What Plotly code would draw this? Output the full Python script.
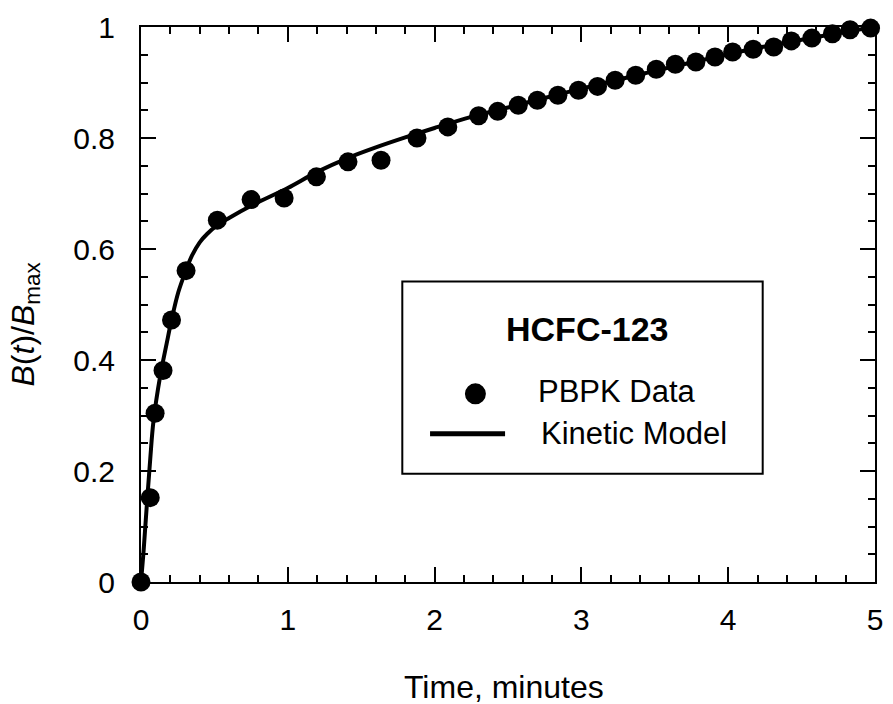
import plotly.graph_objects as go

# PBPK data points (time in minutes, normalized B(t)/Bmax)
pbpk_t = [0.0, 0.063, 0.096, 0.15, 0.208, 0.307, 0.52, 0.75, 0.975, 1.195, 1.41, 1.635,
          1.88, 2.09, 2.30, 2.43, 2.57, 2.70, 2.84, 2.98, 3.11, 3.23, 3.37, 3.51, 3.64,
          3.78, 3.91, 4.03, 4.17, 4.31, 4.43, 4.57, 4.71, 4.83, 4.97]
pbpk_y = [0.0, 0.152, 0.304, 0.381, 0.472, 0.561, 0.652, 0.689, 0.692, 0.730, 0.757, 0.760,
          0.80, 0.82, 0.84, 0.848, 0.859, 0.868, 0.877, 0.886, 0.893, 0.904, 0.913, 0.924, 0.933,
          0.937, 0.946, 0.955, 0.96, 0.964, 0.975, 0.98, 0.988, 0.995, 0.998]

# Kinetic model curve
model_t = [0, 0.018, 0.04, 0.063, 0.085, 0.13, 0.175, 0.208, 0.254, 0.307, 0.347, 0.40,
           0.45, 0.52, 0.60, 0.75, 1.0, 1.2, 1.4, 1.6, 1.8, 2.0, 2.25, 2.5, 2.75, 3.0,
           3.25, 3.5, 3.75, 4.0, 4.25, 4.5, 4.75, 5.0]
model_y = [0, 0.057, 0.14, 0.222, 0.29, 0.37, 0.43, 0.472, 0.522, 0.562, 0.588, 0.612,
           0.627, 0.643, 0.656, 0.678, 0.710, 0.739, 0.763, 0.783, 0.801, 0.818, 0.838,
           0.855, 0.872, 0.889, 0.905, 0.921, 0.936, 0.951, 0.965, 0.977, 0.989, 1.0]

y_tickvals = [0, 0.2, 0.4, 0.6, 0.8, 1.0]
y_ticktext = ["0", "0.2", "0.4", "0.6", "0.8", "1"]
x_tickvals = [0, 1, 2, 3, 4, 5]
x_ticktext = ["0", "1", "2", "3", "4", "5"]

FONT = "Liberation Sans, Arial, Helvetica, sans-serif"

fig = go.Figure()
fig.add_trace(go.Scatter(x=model_t, y=model_y, mode="lines", name="Kinetic Model",
                         line=dict(color="black", width=4, shape="spline", smoothing=1.0),
                         cliponaxis=False, showlegend=False))
fig.add_trace(go.Scatter(x=pbpk_t, y=pbpk_y, mode="markers", name="PBPK Data",
                         marker=dict(color="black", size=19, line=dict(width=0)),
                         cliponaxis=False, showlegend=False))

axis_common = dict(showline=True, linecolor="black", linewidth=2, mirror="allticks",
                   ticks="inside", ticklen=15, tickwidth=2, tickcolor="black",
                   showgrid=False, zeroline=False,
                   tickfont=dict(family=FONT, size=30, color="black"))

fig.update_xaxes(range=[0, 5], tickvals=x_tickvals, ticktext=x_ticktext,
                 minor=dict(ticks="inside", ticklen=7, tickwidth=2, tickcolor="black", dtick=0.2, tick0=0,
                            showgrid=False),
                 ticklabelstandoff=10, **axis_common)
fig.update_yaxes(range=[0, 1], tickvals=y_tickvals, ticktext=y_ticktext,
                 minor=dict(ticks="inside", ticklen=7, tickwidth=2, tickcolor="black", dtick=0.05, tick0=0,
                            showgrid=False),
                 ticklabelstandoff=18, **axis_common)

# Custom legend box
fig.add_shape(type="rect", xref="paper", yref="paper", x0=0.356, x1=0.847, y0=0.195, y1=0.5415,
              line=dict(color="black", width=2), fillcolor="white", layer="above")
fig.add_annotation(xref="paper", yref="paper", x=0.6075, y=0.4567, text="<b>HCFC-123</b>",
                   showarrow=False, font=dict(family=FONT, size=34, color="black"),
                   xanchor="center", yanchor="middle")
fig.add_shape(type="circle", xref="paper", yref="paper", xsizemode="pixel", ysizemode="pixel",
              xanchor=0.4556, yanchor=0.339, x0=-10.5, x1=10.5, y0=-10.5, y1=10.5,
              fillcolor="black", line=dict(width=0), layer="above")
fig.add_annotation(xref="paper", yref="paper", x=0.5376, y=0.343, text="PBPK Data",
                   showarrow=False, font=dict(family=FONT, size=31, color="black"),
                   xanchor="left", yanchor="middle")
fig.add_shape(type="line", xref="paper", yref="paper", x0=0.3938, x1=0.496, y0=0.267, y1=0.267,
              line=dict(color="black", width=5), layer="above")
fig.add_annotation(xref="paper", yref="paper", x=0.5417, y=0.267, text="Kinetic Model",
                   showarrow=False, font=dict(family=FONT, size=31, color="black"),
                   xanchor="left", yanchor="middle")

# Axis titles
fig.add_annotation(xref="paper", yref="paper", x=0.495, y=-0.19, text="Time, minutes",
                   showarrow=False, font=dict(family=FONT, size=32, color="black"),
                   xanchor="center", yanchor="middle")
fig.add_annotation(xref="paper", yref="paper", x=-0.158, y=0.464,
                   text="<i>B</i>(<i>t</i>)/<i>B</i><sub>max</sub>", textangle=-90,
                   showarrow=False, font=dict(family=FONT, size=32, color="black"),
                   xanchor="center", yanchor="middle")

fig.update_layout(width=893, height=704, margin=dict(l=141, r=10, t=26, b=122),
                  plot_bgcolor="white", paper_bgcolor="white", showlegend=False)

fig.write_html("out.html")
